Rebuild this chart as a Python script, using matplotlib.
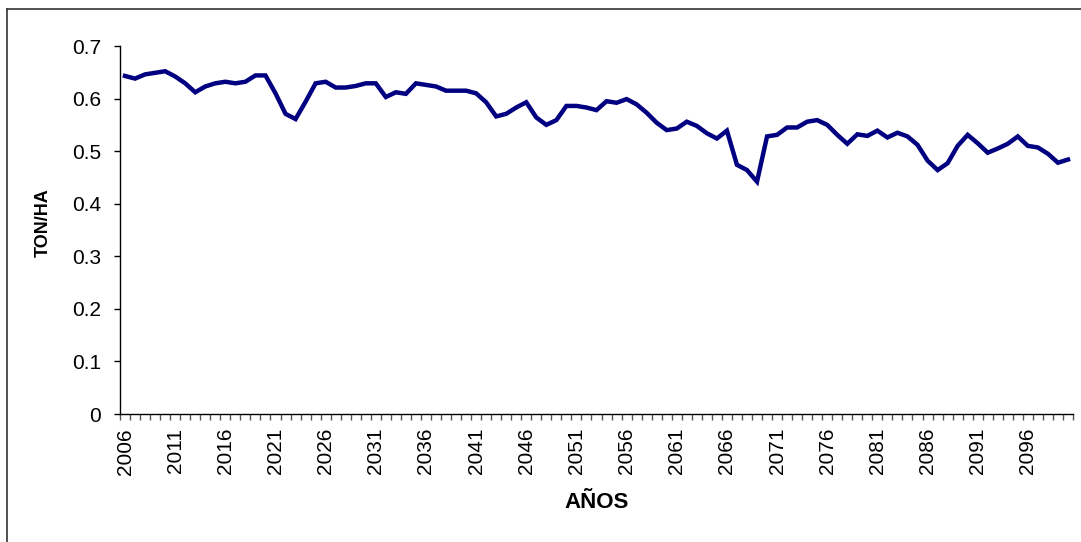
import matplotlib
matplotlib.use('Agg')
import matplotlib.pyplot as plt
from matplotlib.lines import Line2D
import numpy as np

plt.rcParams['font.family'] = ['Liberation Sans', 'DejaVu Sans']

years = list(range(2006, 2101))
ton_ha = [0.643, 0.638, 0.646, 0.649, 0.652, 0.642, 0.629, 0.612, 0.623, 0.629,
          0.632, 0.629, 0.632, 0.644, 0.644, 0.610, 0.571, 0.561, 0.594, 0.629,
          0.632, 0.621, 0.621, 0.624, 0.629, 0.629, 0.603, 0.612, 0.609, 0.629,
          0.626, 0.623, 0.615, 0.615, 0.615, 0.610, 0.593, 0.566, 0.571, 0.583,
          0.593, 0.564, 0.550, 0.559, 0.586, 0.586, 0.583, 0.578, 0.595, 0.592,
          0.599, 0.589, 0.573, 0.554, 0.540, 0.543, 0.556, 0.548, 0.534, 0.524,
          0.539, 0.474, 0.464, 0.442, 0.528, 0.531, 0.545, 0.545, 0.556, 0.559,
          0.550, 0.531, 0.514, 0.532, 0.529, 0.539, 0.526, 0.535, 0.528, 0.512,
          0.482, 0.464, 0.477, 0.510, 0.531, 0.515, 0.497, 0.505, 0.514, 0.528,
          0.510, 0.507, 0.495, 0.478, 0.484]
y_ticks = [0, 0.1, 0.2, 0.3, 0.4, 0.5, 0.6, 0.7]

W, H = 1081, 542
fig = plt.figure(figsize=(W / 100, H / 100), dpi=100)
ax = fig.add_axes([120 / W, 1 - 414 / H, (1073 - 120) / W, (414 - 46) / H])

pos = np.arange(len(years))
ax.plot(pos, ton_ha, color='#000080', linewidth=3.2, solid_joinstyle='miter')

ax.set_xlim(-0.5, len(years) - 0.5)
ax.set_ylim(0, 0.7)

# category axis: tick marks between years, labels every 5 years
ax.set_xticks(pos[::5])
ax.set_xticklabels([str(y) for y in years[::5]], rotation=90, fontsize=15)
ax.set_xticks(np.arange(-0.5, len(years), 1), minor=True)
ax.tick_params(axis='x', which='major', length=0, pad=10)
ax.tick_params(axis='x', which='minor', length=4.5, width=1, color='#555555', direction='out')

ax.set_yticks(y_ticks)
ax.set_yticklabels(['0' if v == 0 else f'{v:.1f}' for v in y_ticks], fontsize=15)
ax.tick_params(axis='y', length=4.5, width=1, direction='out', pad=9)

for s in ['top', 'right']:
    ax.spines[s].set_visible(False)
for s in ['left', 'bottom']:
    ax.spines[s].set_linewidth(1)

fig.text(597 / W, 1 - 503 / H, 'AÑOS', fontsize=16, fontweight='bold', ha='center', va='center')
fig.text(43 / W, 1 - 223 / H, 'TON/HA', fontsize=13, fontweight='bold', ha='center', va='center', rotation=90)

# chart frame (left and top edges)
fig.add_artist(Line2D([7.5 / W, 7.5 / W], [0, 1 - 9 / H], transform=fig.transFigure, color='#333333', linewidth=1.2))
fig.add_artist(Line2D([7.5 / W, 1], [1 - 9 / H, 1 - 9 / H], transform=fig.transFigure, color='#333333', linewidth=1.2))

fig.savefig('out.png', dpi=100)
